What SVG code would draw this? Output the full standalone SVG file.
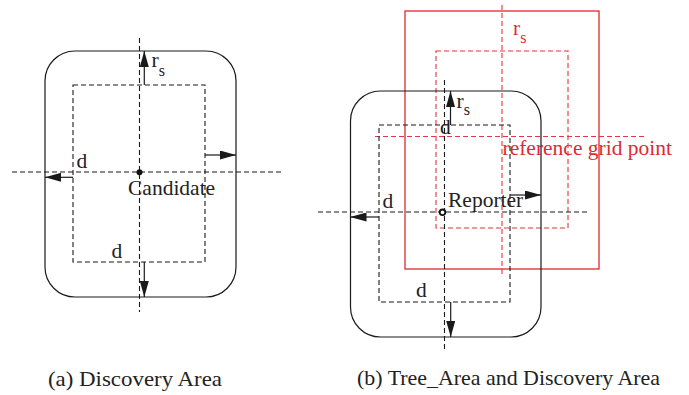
<svg xmlns="http://www.w3.org/2000/svg" width="689" height="395" viewBox="0 0 689 395">
  <style>
    .bg { fill: #ffffff; }
    .outer { fill: none; stroke: #1a1a1a; stroke-width: 1.2; }
    .dash { fill: none; stroke: #1a1a1a; stroke-width: 1.1; stroke-dasharray: 5 3; }
    .rsolid { fill: none; stroke: #e0282f; stroke-width: 1.3; }
    .rdash { fill: none; stroke: #e6353d; stroke-width: 1.1; stroke-dasharray: 5 3; }
    .arrow { fill: none; stroke: #1a1a1a; stroke-width: 1.2; marker-end: url(#head); }
    .lbl { font-family: "Liberation Serif", "Times New Roman", serif; font-size: 21.5px; fill: #222222; }
    .sub { font-size: 16px; }
    .red { fill: #e02a32; }
    .cap { font-family: "Liberation Serif", "Times New Roman", serif; font-size: 22px; fill: #222222; }
  </style>
  <defs>
    <marker id="head" markerUnits="userSpaceOnUse" markerWidth="16" markerHeight="9" refX="16" refY="4.5" orient="auto">
      <path d="M0,0 L16,4.5 L0,9 z" fill="#1a1a1a"/>
    </marker>
  </defs>
  <rect class="bg" x="0" y="0" width="689" height="395"/>

  <!-- (a) discovery area around the candidate -->
  <g id="discovery-area-a">
    <rect class="outer" x="45" y="51" width="191" height="246" rx="30" ry="30"/>
    <rect class="dash" x="73" y="85" width="132" height="177"/>
    <line class="dash" x1="139.5" y1="38" x2="139.5" y2="312"/>
    <line class="dash" x1="12" y1="172" x2="283" y2="172"/>
  </g>
  <g id="candidate">
    <circle cx="139.5" cy="172.3" r="3" fill="#111111"/>
    <text class="lbl" x="128" y="195">Candidate</text>
  </g>
  <g id="labels-a">
    <text class="lbl" x="151.5" y="67">r<tspan class="sub" dy="8.5">s</tspan></text>
    <text class="lbl" x="76.5" y="168">d</text>
    <text class="lbl" x="111.5" y="258">d</text>
  </g>

  <!-- (b) tree area (red) and discovery area around the reporter -->
  <g id="tree-area">
    <rect class="rsolid" x="405" y="11" width="194" height="258"/>
    <rect class="rdash" x="436" y="51" width="132" height="177"/>
    <line class="rdash" x1="502" y1="5" x2="502" y2="276"/>
    <line class="rdash" x1="375" y1="136.5" x2="647" y2="136.5"/>
    <text class="lbl red" x="513" y="35">r<tspan class="sub" dy="8">s</tspan></text>
    <text class="lbl red" x="502.5" y="155">reference grid point</text>
  </g>
  <g id="discovery-area-b">
    <rect class="outer" x="350.5" y="91" width="190.5" height="246" rx="30" ry="30"/>
    <rect class="dash" x="379" y="125" width="131" height="177"/>
    <line class="dash" x1="444.5" y1="80" x2="444.5" y2="350"/>
    <line class="dash" x1="318" y1="212" x2="588" y2="212"/>
  </g>
  <g id="reporter">
    <circle cx="442.5" cy="212.3" r="2.8" fill="#ffffff" stroke="#111111" stroke-width="1.8"/>
    <text class="lbl" x="448" y="207">Reporter</text>
  </g>
  <g id="labels-b">
    <text class="lbl" x="456.5" y="108">r<tspan class="sub" dy="7">s</tspan></text>
    <text class="lbl" x="440" y="134">d</text>
    <text class="lbl" x="382.5" y="208">d</text>
    <text class="lbl" x="416" y="297">d</text>
  </g>

  <!-- offset arrows from the inner box out to the rounded boundary -->
  <g id="connectors">
    <line class="arrow" x1="144.3" y1="85" x2="144.3" y2="51"/>
    <line class="arrow" x1="205" y1="155" x2="236" y2="155"/>
    <line class="arrow" x1="73" y1="177.3" x2="45" y2="177.3"/>
    <line class="arrow" x1="144.3" y1="262" x2="144.3" y2="297"/>
    <line class="arrow" x1="450.5" y1="125" x2="450.5" y2="91"/>
    <line class="arrow" x1="510" y1="195" x2="541" y2="195"/>
    <line class="arrow" x1="379" y1="217" x2="350.5" y2="217"/>
    <line class="arrow" x1="450.7" y1="302" x2="450.7" y2="337"/>
  </g>

  <g id="captions">
    <text class="cap" x="48" y="386" textLength="174" lengthAdjust="spacingAndGlyphs">(a) Discovery Area</text>
    <text class="cap" x="357" y="385" textLength="303" lengthAdjust="spacingAndGlyphs">(b) Tree_Area and Discovery Area</text>
  </g>
</svg>
